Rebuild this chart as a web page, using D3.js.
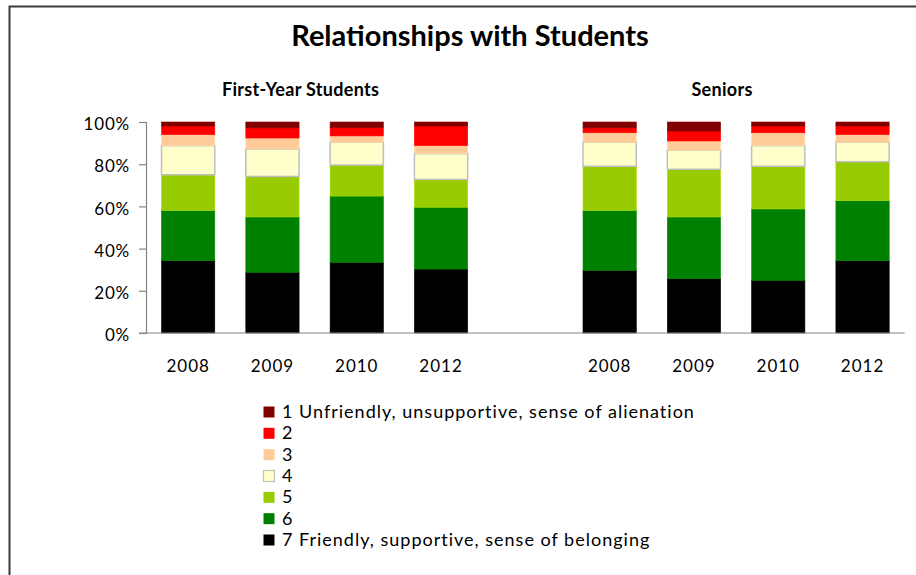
<!DOCTYPE html>
<html>
<head>
<meta charset="utf-8">
<script src="https://cdn.jsdelivr.net/npm/d3@7"></script>
<style>
  html, body { margin: 0; padding: 0; background: #fff; }
  svg { display: block; }
  text { font-family: Lato, "Open Sans", sans-serif; fill: #000; }
</style>
</head>
<body>
<svg id="chart" width="916" height="575"></svg>
<script>
// Survey years shown for each student group
const years = ["2008", "2009", "2010", "2012"];
const groups = ["First-Year Students", "Seniors"];

// Response scale, 1 (worst) to 7 (best)
const levelLabels = [
  "1 Unfriendly, unsupportive, sense of alienation",
  "2", "3", "4", "5", "6",
  "7 Friendly, supportive, sense of belonging"
];
const levelColors = ["#800000", "#ff0000", "#ffcc99", "#ffffcc", "#99cc00", "#008000", "#000000"];

// Percent of respondents per level: First-Year 2008,2009,2010,2012 then Seniors 2008,2009,2010,2012
const level1 = [1.9, 2.8, 2.7, 1.9, 2.8, 4.3, 1.9, 1.9];
const level2 = [4.1, 4.8, 3.9, 9.3, 2.3, 4.7, 3.2, 4.1];
const level3 = [5.2, 5.2, 3.0, 3.8, 4.5, 4.4, 6.1, 3.6];
const level4 = [13.8, 13.0, 10.8, 12.2, 11.4, 9.0, 9.8, 9.2];
const level5 = [16.9, 19.2, 14.7, 13.2, 20.9, 22.6, 20.2, 18.5];
const level6 = [23.8, 26.2, 31.4, 29.3, 28.4, 29.2, 33.8, 28.4];
const level7 = [34.3, 28.8, 33.5, 30.3, 29.7, 25.8, 25.0, 34.3];

const yTicks = [0, 20, 40, 60, 80, 100];

// Bars are stacked from level 7 at the bottom up to level 1 at the top
const stackOrder = [6, 5, 4, 3, 2, 1, 0];
const levelValues = [level1, level2, level3, level4, level5, level6, level7];

// Slots along the x axis: four years per group with an empty slot between groups
const slots = [];
groups.forEach((g, gi) => {
  years.forEach(y => slots.push({ key: g + "|" + y, group: g, year: y }));
  if (gi < groups.length - 1) slots.push({ key: "gap", group: null, year: null });
});
const barSlots = slots.filter(s => s.group);

const rows = barSlots.map((s, i) => {
  const row = { key: s.key, year: s.year, group: s.group };
  levelValues.forEach((arr, li) => { row["L" + li] = arr[i]; });
  return row;
});

const svg = d3.select("#chart");

// Chart area frame
svg.append("rect")
  .attr("x", 9.5).attr("y", 6.5)
  .attr("width", 920).attr("height", 600)
  .attr("fill", "none").attr("stroke", "#3a3a3a").attr("stroke-width", 2);

const x = d3.scaleBand()
  .domain(slots.map(s => s.key))
  .range([146, 904.7])
  .paddingInner(0.368)
  .paddingOuter(0.184);

const y = d3.scaleLinear().domain([0, 100]).range([333, 122]);

// Title and group headings
svg.append("text")
  .attr("x", 470).attr("y", 46)
  .attr("text-anchor", "middle")
  .style("font-size", "29px").style("font-weight", "bold")
  .text("Relationships with Students");

groups.forEach(g => {
  const keys = barSlots.filter(s => s.group === g).map(s => x(s.key));
  const mid = (d3.min(keys) + d3.max(keys) + x.bandwidth()) / 2 - 14;
  svg.append("text")
    .attr("x", mid).attr("y", 96)
    .attr("text-anchor", "middle")
    .style("font-size", "18px").style("font-weight", "bold")
    .style("letter-spacing", "0.3px")
    .text(g);
});

// Stacked bars
const stack = d3.stack().keys(stackOrder.map(i => "L" + i));
const series = stack(rows);

svg.append("g").selectAll("g")
  .data(series)
  .join("g")
  .each(function(s) {
    const li = +s.key.slice(1);
    d3.select(this).selectAll("rect")
      .data(s)
      .join("rect")
      .attr("x", d => x(d.data.key))
      .attr("width", x.bandwidth())
      .attr("y", d => y(d[1]))
      .attr("height", d => y(d[0]) - y(d[1]))
      .attr("fill", levelColors[li])
      .attr("stroke", li === 3 ? "#bfbfbf" : d3.color(levelColors[li]).brighter(0.25))
      .attr("stroke-width", li === 3 ? 1.5 : 0.6);
  });

// Y axis
const yAxis = d3.axisLeft(y)
  .tickValues(yTicks)
  .tickFormat(d => d + "%")
  .tickSize(7)
  .tickPadding(9);
const gy = svg.append("g").attr("transform", "translate(146,0)").call(yAxis);
gy.select(".domain").attr("stroke", "#868686").attr("stroke-width", 1.2);
gy.selectAll(".tick line").attr("stroke", "#868686").attr("stroke-width", 1.2);
gy.selectAll(".tick text")
  .style("font-size", "17px").style("font-family", "Lato, sans-serif")
  .style("letter-spacing", "0.8px")
  .attr("fill", "#000").attr("dy", "0.45em");

// X axis
const xAxis = d3.axisBottom(x)
  .tickValues(barSlots.map(s => s.key))
  .tickFormat(k => k.split("|")[1])
  .tickSize(0)
  .tickPadding(27);
const gx = svg.append("g").attr("transform", "translate(0,333)").call(xAxis);
gx.select(".domain").attr("d", "M139,0H904.7").attr("stroke", "#868686").attr("stroke-width", 1.2);
gx.selectAll(".tick text")
  .style("font-size", "17px").style("font-family", "Lato, sans-serif")
  .style("letter-spacing", "1px")
  .attr("fill", "#000");

// Legend, level 1 at the top
const legend = svg.append("g").attr("transform", "translate(263,0)");
const legendY = d3.scalePoint().domain(d3.range(levelLabels.length)).range([412, 540]);
levelLabels.forEach((label, i) => {
  const cy = legendY(i);
  legend.append("rect")
    .attr("x", 0.5).attr("y", cy - 5.5)
    .attr("width", 11).attr("height", 11)
    .attr("fill", levelColors[i])
    .attr("stroke", i === 3 ? "#bfbfbf" : "none")
    .attr("stroke-width", 1.2);
  legend.append("text")
    .attr("x", 19).attr("y", cy + 6)
    .style("font-size", "18px")
    .style("letter-spacing", "1px")
    .text(label);
});
</script>
</body>
</html>
